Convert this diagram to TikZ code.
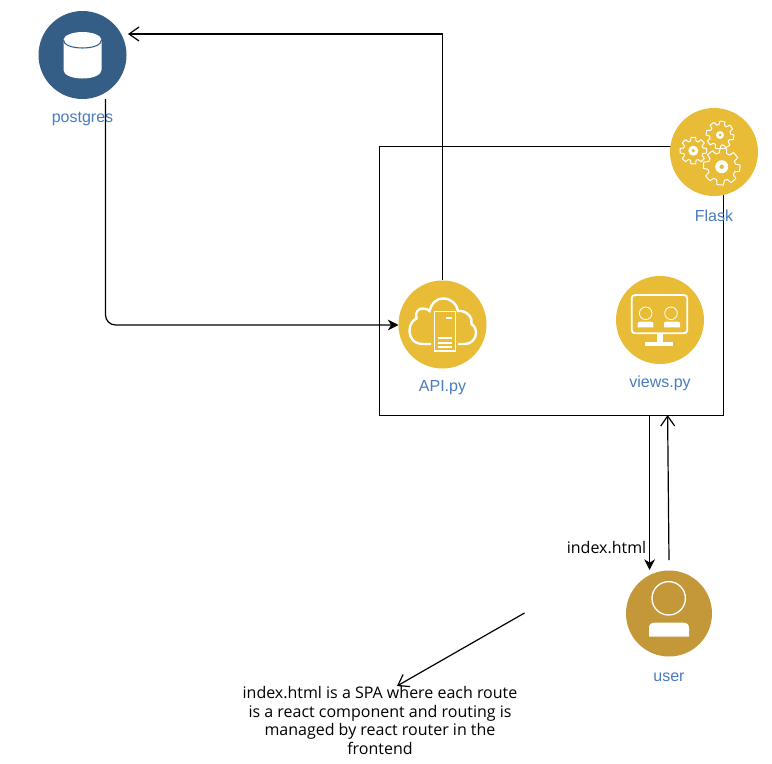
\documentclass[tikz,border=0pt]{standalone}
\usepackage{fontspec}
\setmainfont{Open Sans}
\newfontfamily\lblfont{Liberation Sans}
\usetikzlibrary{arrows.meta}
\definecolor{dbblue}{HTML}{345E85}
\definecolor{goldy}{HTML}{E8BC36}
\definecolor{usergold}{HTML}{C49738}
\definecolor{lblblue}{HTML}{4A7CBE}
\tikzset{
  x=0.75pt,y=-0.75pt,
  disc/.style={circle,inner sep=0pt,minimum size=66pt,fill=#1},
  lbl/.style={font=\lblfont\fontsize{12pt}{14pt}\selectfont,text=lblblue,inner sep=0pt},
  note/.style={font=\fontsize{12pt}{14pt}\selectfont,text=black,inner sep=0pt,align=center},
  conn/.style={draw=black,line width=0.9pt},
  openhead/.style={-{Straight Barb[length=7.5pt,width=10.5pt,line width=0.9pt]}},
  solidhead/.style={-{Stealth[length=8pt,width=8pt,inset=2.5pt]}},
  icon/.style={draw=white,line width=0.9pt},
}
\newcommand{\gearshape}[5]{% cx cy outer inner phase
  \draw[icon,line width=0.75pt,line join=round] ({#1+#3*cos(#5-10)},{#2+#3*sin(#5-10)})
    \foreach \k in {0,45,...,315}{
      -- ({#1+#3*cos(#5+\k-10)},{#2+#3*sin(#5+\k-10)})
      -- ({#1+#3*cos(#5+\k+10)},{#2+#3*sin(#5+\k+10)})
      -- ({#1+#4*cos(#5+\k+16)},{#2+#4*sin(#5+\k+16)})
      -- ({#1+#4*cos(#5+\k+29)},{#2+#4*sin(#5+\k+29)})
    } -- cycle;
}
\begin{document}
\begin{tikzpicture}
\useasboundingbox (0,0) rectangle (772,764);
\fill[white] (0,0) rectangle (772,764);

% container
\node[draw=black,line width=0.9pt,minimum width=258pt,minimum height=201.75pt,inner sep=0pt,anchor=north west] (flaskbox) at (379,146) {};

% labels
\node[lbl] (pglabel) at (82.5,119) {postgres};
\node[lbl] (flasklabel) at (714,215.5) {Flask};
\node[lbl] (apilabel) at (442.5,387.5) {API.py};
\node[lbl] (viewslabel) at (660,383.5) {views.py};
\node[lbl] (userlabel) at (669,677.5) {user};
\node[note] (htmllabel) at (606.5,547.5) {index.html};
\node[note] (spanote) at (380,720.5) {index.html is a SPA where each route\\is a react component and routing is\\managed by react router in the\\frontend};

% discs
\node[disc=dbblue] (pg) at (82.5,55) {};
\node[disc=goldy] (flask) at (714,152) {};
\node[disc=goldy] (api) at (442.5,324.5) {};
\node[disc=goldy] (views) at (660,320) {};
\node[disc=usergold,minimum size=64.5pt] (user) at (669,613.5) {};

% free connector ends
\coordinate (pgin) at (128,34);
\coordinate (pgout) at (105.5,99);
\coordinate (apiin) at (398.5,325);
\coordinate (boxout) at (649.6,415);
\coordinate (userin) at (649.6,570);
\coordinate (userout) at (669,560);
\coordinate (boxin) at (667.6,415);
\coordinate (notefrom) at (524.5,613);
\coordinate (noteto) at (397,686);

% connectors
\draw[conn,openhead] (api.north) |- (pgin);
\draw[conn,solidhead,rounded corners=7.5pt] (pgout) |- (apiin);
\draw[conn,solidhead] (boxout) -- (userin);
\draw[conn,openhead] (userout) -- (boxin);
\draw[conn,openhead] (notefrom) -- (noteto);

% database icon
\fill[white] (63.5,40) -- (63.5,70) .. controls (63.5,75) and (72,78.5) .. (82.5,78.5)
  .. controls (93,78.5) and (101.5,75) .. (101.5,70) -- (101.5,40) -- cycle;
\fill[white] (82.5,40) ellipse[x radius=19,y radius=8];
\draw[draw=dbblue,line width=0.8pt] (63.5,40) .. controls (63.5,45) and (72,48) .. (82.5,48)
  .. controls (93,48) and (101.5,45) .. (101.5,40);

% gears icon
\gearshape{693.3}{150.7}{13.5}{10}{0}
\gearshape{720}{135}{14}{10.5}{10}
\fill[goldy] (721.7,166.7) circle[radius=18];
\gearshape{721.7}{166.7}{18.5}{14}{5}
\fill[white] (693.3,150.7) circle[radius=5];
\fill[goldy] (693.3,150.7) circle[radius=1.8];
\fill[white] (720,135) circle[radius=4];
\fill[goldy] (720,135) circle[radius=1.5];
\fill[white] (721.7,166.7) circle[radius=6.5];
\fill[goldy] (721.7,166.7) circle[radius=2.2];

% cloud and server icon
\draw[draw=white,line width=1.8pt] (431,344) -- (423,344)
  .. controls (414,344) and (409.5,338) .. (409.5,331)
  .. controls (409.5,324) and (413,320) .. (416.5,318.5)
  .. controls (414.5,312) and (419,308) .. (423,308.5)
  .. controls (426,308.5) and (428,309.5) .. (429.5,311)
  .. controls (431,304) and (436,298.5) .. (443,298.5)
  .. controls (451,298.5) and (457,304) .. (458,311)
  .. controls (467,310) and (473,318) .. (471.5,324)
  .. controls (475,326) and (476,330) .. (476,333)
  .. controls (476,339) and (471,344) .. (465,344) -- (458,344);
\draw[icon] (434.3,311.7) rectangle (455.3,351);
\fill[white] (446,316.7) rectangle (451.7,318.7);
\fill[white] (438.3,337) rectangle (451.7,339);
\fill[white] (438.3,341.7) rectangle (451.7,343.7);
\fill[white] (438.3,345.7) rectangle (451.7,347.7);

% monitor icon
\draw[draw=white,line width=1.4pt,rounded corners=2.5pt] (631.7,295) rectangle (687.3,333.3);
\draw[draw=white,line width=0.6pt] (645.7,313.3) circle[radius=6.3];
\draw[draw=white,line width=0.6pt] (671,313.3) circle[radius=6.3];
\fill[white] (637.7,327.3) -- (637.7,323.5) .. controls (637.7,322.3) and (638.5,321.7) .. (640,321.7) -- (651,321.7) .. controls (652.5,321.7) and (653.3,322.3) .. (653.3,323.5) -- (653.3,327.3) -- cycle;
\fill[white] (664,327.3) -- (664,323.5) .. controls (664,322.3) and (664.8,321.7) .. (666.3,321.7) -- (677.7,321.7) .. controls (679.2,321.7) and (680,322.3) .. (680,323.5) -- (680,327.3) -- cycle;
\fill[white] (656.7,333) rectangle (663.3,341.7);
\fill[white] (645,341.7) rectangle (673.3,345.7);

% user icon
\draw[draw=white,line width=1pt] (668.7,598.3) circle[radius=16.7];
\fill[white] (649,636.7) -- (649,628) .. controls (649,624.5) and (651,622.7) .. (654.5,622.7) -- (683.5,622.7) .. controls (687,622.7) and (689,624.5) .. (689,628) -- (689,636.7) -- cycle;
\end{tikzpicture}
\end{document}
